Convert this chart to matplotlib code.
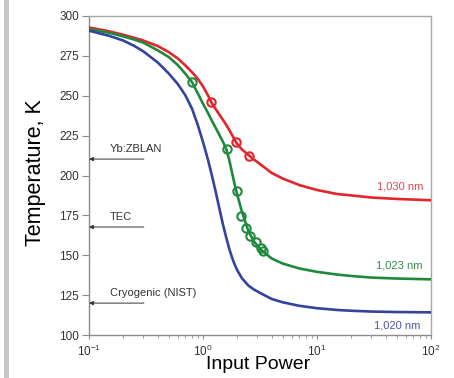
import matplotlib
matplotlib.use("Agg")
import matplotlib.pyplot as plt
from matplotlib.patches import Rectangle

plt.rcParams['font.family'] = ['Liberation Sans', 'DejaVu Sans']
plt.rcParams['mathtext.fontset'] = 'custom'
plt.rcParams['mathtext.rm'] = 'Liberation Sans'

# ---- data ----
power = [0.1, 0.15, 0.2, 0.25, 0.3, 0.4, 0.5, 0.6, 0.7, 0.8, 0.9, 1.0, 1.1, 1.2,
         1.3, 1.4, 1.5, 1.6, 1.7, 1.8, 1.9, 2.0, 2.2, 2.5, 2.8, 3.2, 4, 5, 7,
         10, 15, 20, 30, 50, 100]
temp_1030 = [292.8, 290.4, 288.2, 286.3, 284.6, 281.2, 277.4, 273.4, 269.0, 264.8,
             260.6, 255.8, 250.5, 245.1, 241.4, 237.9, 234.8, 231.7, 228.5, 225.4,
             222.3, 219.7, 216.3, 212.9, 210.0, 206.9, 201.6, 198.1, 194.0,
             190.9, 188.4, 187.5, 186.2, 185.3, 184.5]
temp_1023 = [291.8, 289.5, 287.2, 285.2, 283.3, 278.5, 274.3, 269.3, 263.8, 258.6,
             251.5, 245.0, 239.5, 234.2, 229.5, 225.1, 221.0, 216.6, 209.7, 201.6,
             194.0, 187.8, 177.1, 165.2, 158.6, 153.6, 148.0, 144.8, 141.7,
             139.6, 137.9, 137.0, 136.0, 135.4, 134.9]
temp_1020 = [290.8, 287.6, 284.6, 281.2, 277.8, 270.9, 264.0, 257.4, 250.3, 242.0,
             231.7, 221.0, 210.5, 199.7, 189.0, 178.5, 169.0, 161.0, 154.0, 148.5,
             144.0, 140.5, 135.5, 131.0, 128.5, 126.2, 122.6, 120.5, 118.3,
             116.8, 115.7, 115.2, 114.7, 114.4, 114.2]

meas_1030_p = [1.17, 1.95, 2.53]
meas_1030_t = [246.1, 221.0, 212.2]
meas_1023_p = [0.80, 1.63, 1.99, 2.15, 2.38, 2.58, 2.92, 3.23, 3.36]
meas_1023_t = [258.6, 216.6, 190.3, 174.6, 167.1, 162.1, 158.3, 154.5, 152.7]

series_labels = ['1,030 nm', '1,023 nm', '1,020 nm']
label_pos = [85, 85, 81]
label_temps = [192.8, 143.3, 105.7]

ref_names = ['Yb:ZBLAN', 'TEC', 'Cryogenic (NIST)']
ref_temps = [210.3, 167.7, 120.0]

yticks = [100, 125, 150, 175, 200, 225, 250, 275, 300]

# ---- style ----
c_red = '#e2262c'
c_green = '#1f8a3e'
c_blue = '#34449c'
c_red_t = '#e4454d'
c_green_t = '#3a8a4e'
c_blue_t = '#4a56a0'

fig = plt.figure(figsize=(4.54, 3.78), dpi=100)
fig.patches.append(Rectangle((4 / 454, 0), 5 / 454, 1, transform=fig.transFigure,
                             facecolor='#c6c6c6', edgecolor='none'))
ax = fig.add_axes([89 / 454, 43 / 378, 342 / 454, 319 / 378])

lw = 1.9
ax.plot(power, temp_1030, color=c_red, lw=lw, zorder=3)
ax.plot(power, temp_1023, color=c_green, lw=lw, zorder=3)
ax.plot(power, temp_1020, color=c_blue, lw=lw, zorder=3)
ax.plot(meas_1030_p, meas_1030_t, 'o', mfc='none', mec=c_red, mew=1.5, ms=6, zorder=4)
ax.plot(meas_1023_p, meas_1023_t, 'o', mfc='none', mec=c_green, mew=1.5, ms=6, zorder=4)

ax.set_xscale('log')
ax.set_xlim(0.1, 100)
ax.set_ylim(100, 300)
ax.set_yticks(yticks)

for lab, xp, t, c in zip(series_labels, label_pos, label_temps,
                         [c_red_t, c_green_t, c_blue_t]):
    ax.text(xp, t, lab, color=c, fontsize=8, ha='right', va='center')

for name, t in zip(ref_names, ref_temps):
    ax.annotate('', xy=(0.1, t), xytext=(0.303, t),
                arrowprops=dict(arrowstyle='-|>', color='#333333', lw=0.7,
                                mutation_scale=6, shrinkA=0, shrinkB=0))
    ax.text(0.152, t + 3.2, name, fontsize=8, color='#333333', ha='left', va='bottom')

for s in ['left', 'bottom']:
    ax.spines[s].set_color('#8c8c8c')
    ax.spines[s].set_linewidth(1.0)
for s in ['right', 'top']:
    ax.spines[s].set_color('#a8a8a8')
    ax.spines[s].set_linewidth(1.0)

ax.tick_params(axis='y', which='major', direction='out', length=5, width=0.8,
               color='#8c8c8c', labelsize=8.5, labelcolor='#333333', pad=2)
ax.tick_params(axis='x', which='major', direction='out', length=3, width=0.8,
               color='#8c8c8c', labelsize=8.5, labelcolor='#333333', pad=3)
ax.tick_params(axis='x', which='minor', direction='out', length=2, width=0.6,
               color='#8c8c8c')

ax.set_xlabel('Input Power', fontsize=14, color='black')
ax.set_ylabel('Temperature, K', fontsize=15.5, color='black')
ax.xaxis.set_label_coords(0.494, -0.067)
ax.yaxis.set_label_coords(-0.127, 0.509)

fig.savefig('out.png', dpi=100)
